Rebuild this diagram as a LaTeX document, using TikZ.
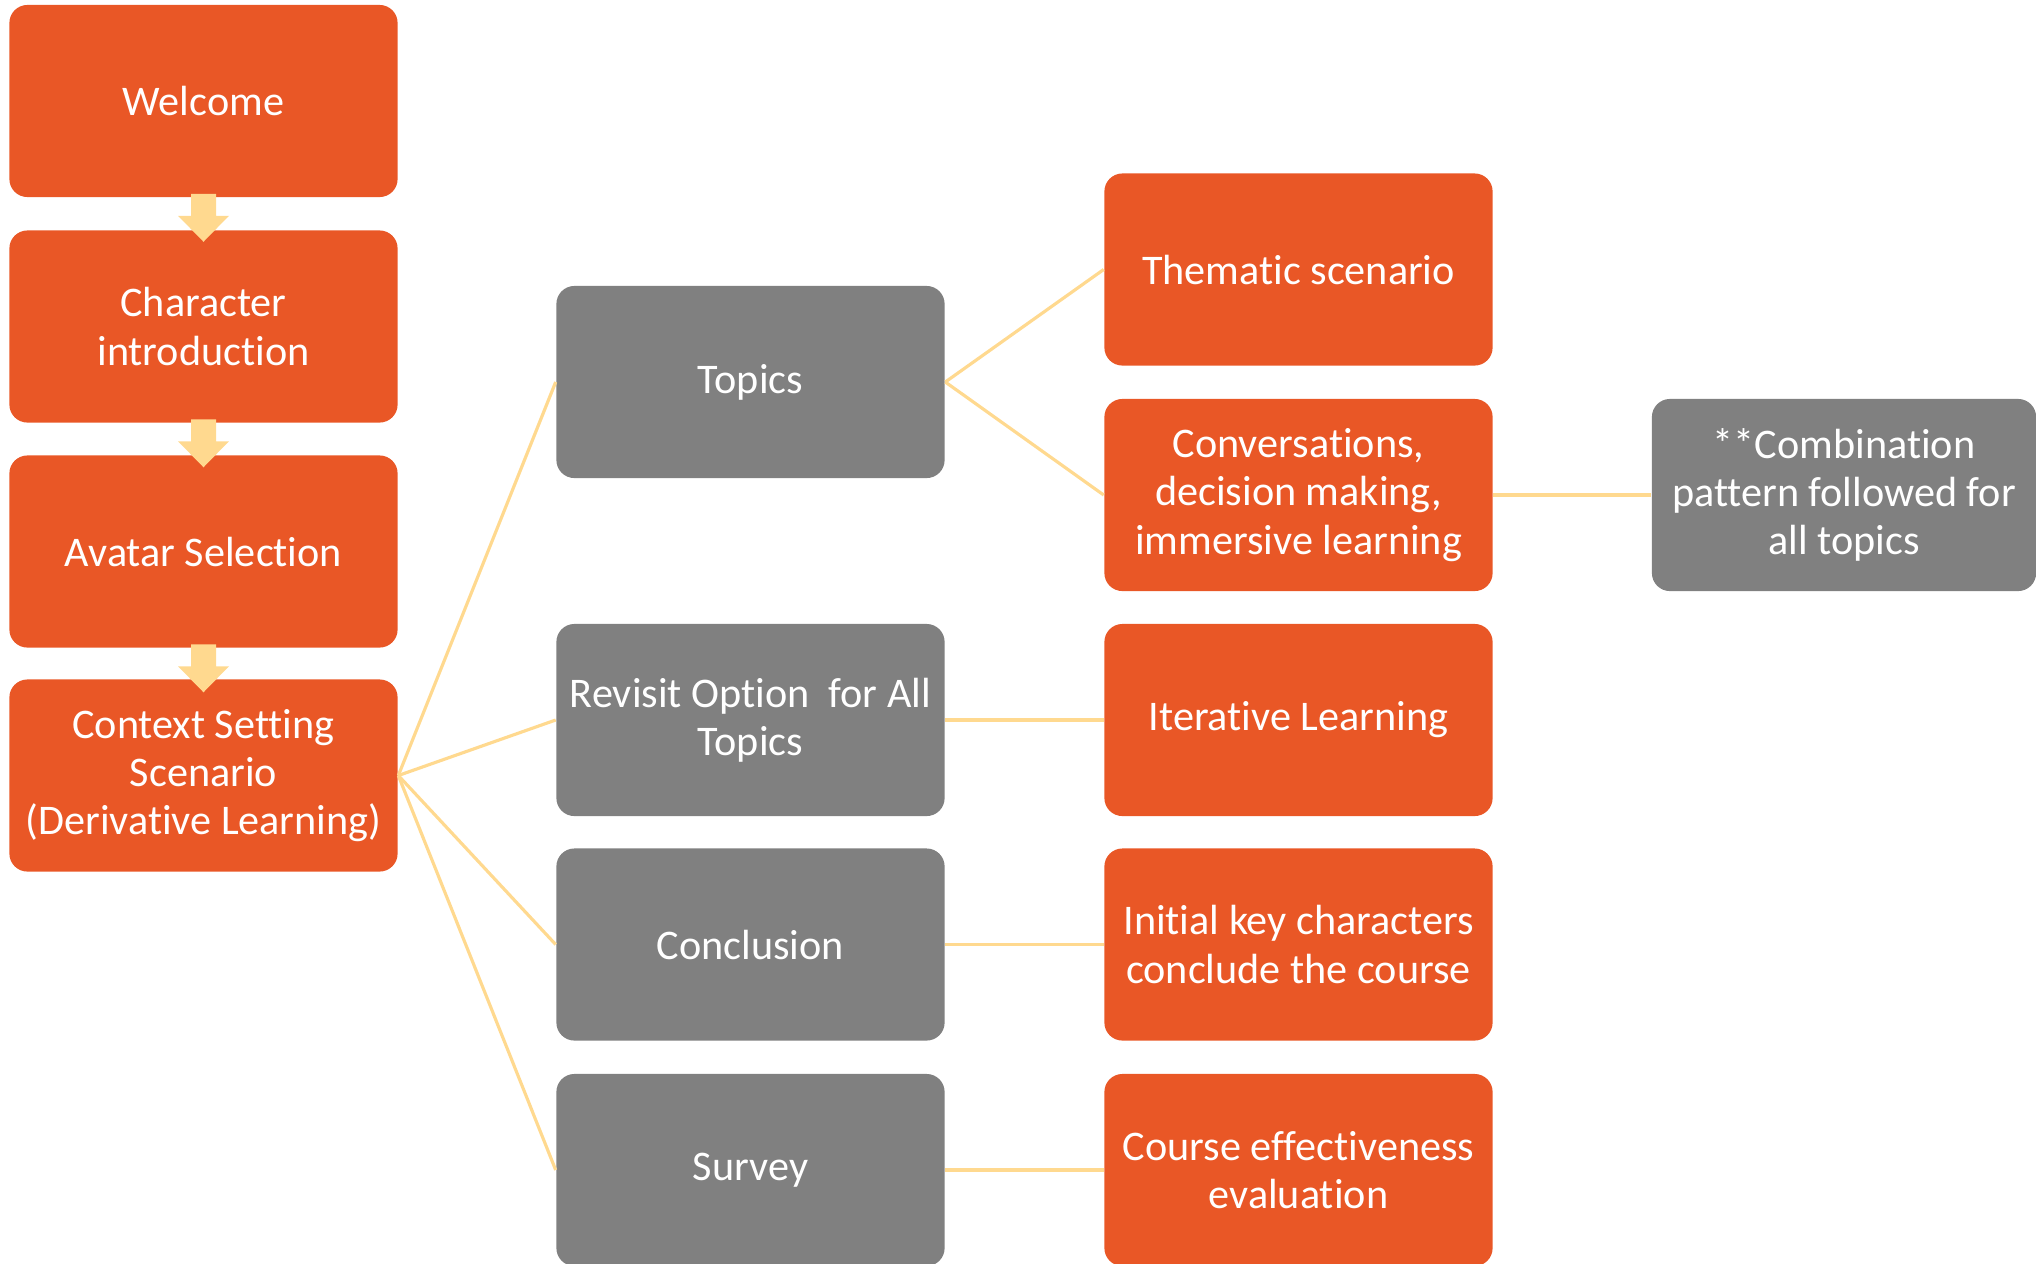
\documentclass[tikz,border=0pt]{standalone}
\usepackage{fontspec}
\setmainfont{Carlito}[Ligatures=NoCommon]
\usepackage{tikz}
\usetikzlibrary{calc}
\definecolor{boxorange}{RGB}{233,87,38}
\definecolor{boxgray}{RGB}{128,128,128}
\definecolor{lightgold}{RGB}{255,217,143}

\begin{document}
\begin{tikzpicture}[x=0.01cm, y=-0.01cm,
    stage/.style={fill=boxorange, rounded corners=0.18cm, minimum width=3.88cm, minimum height=1.92cm, inner xsep=2pt, text=white, align=center, font=\fontsize{12}{13.7}\selectfont},
    grouping/.style={stage, fill=boxgray},
    link/.style={draw=lightgold, line width=0.9pt}]
        \useasboundingbox (0,0) rectangle (2036,1263);

        % Main flow
        \node[stage] (welcome) at (203.5,101) {Welcome};
        \node[stage] (charintro) at (203.5,326.5) {Character\\introduction};
        \node[stage] (avatar) at (203.5,551.5) {Avatar Selection};
        \node[stage] (context) at (203.5,775.5) {Context Setting\\Scenario\\(Derivative Learning)};

        % Block arrows
        \foreach \n in {welcome, charintro, avatar}
            \fill[lightgold] ($(\n.south)+(-12.5,-4)$) -- ($(\n.south)+(12.5,-4)$) -- ($(\n.south)+(12.5,18)$) -- ($(\n.south)+(25.5,18)$) -- ($(\n.south)+(0,44)$) -- ($(\n.south)+(-25.5,18)$) -- ($(\n.south)+(-12.5,18)$) -- cycle;

        % Course sections
        \node[grouping] (topics) at (750.5,382) {Topics};
        \node[grouping] (revisit) at (750.5,720) {Revisit Option\ \ for All\\Topics};
        \node[grouping] (conclusion) at (750.5,944.5) {Conclusion};
        \node[grouping] (survey) at (750.5,1170) {Survey};

        % Details
        \node[stage] (thematic) at (1298.5,269.5) {Thematic scenario};
        \node[stage] (conversations) at (1298.5,495) {Conversations,\\decision making,\\immersive learning};
        \node[stage] (iterative) at (1298.5,720) {Iterative Learning};
        \node[stage] (keychars) at (1298.5,944.5) {Initial key characters\\conclude the course};
        \node[stage] (evaluation) at (1298.5,1170) {Course effectiveness\\evaluation};

        \node[grouping, minimum width=3.84cm] (combination) at (1844,495) {**Combination\\pattern followed for\\all topics};

        % Connectors
        \draw[link] (context.east) -- (topics.west);
        \draw[link] (context.east) -- (revisit.west);
        \draw[link] (context.east) -- (conclusion.west);
        \draw[link] (context.east) -- (survey.west);
        \draw[link] (topics.east) -- (thematic.west);
        \draw[link] (topics.east) -- (conversations.west);
        \draw[link] (revisit.east) -- (iterative.west);
        \draw[link] (conclusion.east) -- (keychars.west);
        \draw[link] (survey.east) -- (evaluation.west);
        \draw[link] (conversations.east) -- (combination.west);
    \end{tikzpicture}
\end{document}
